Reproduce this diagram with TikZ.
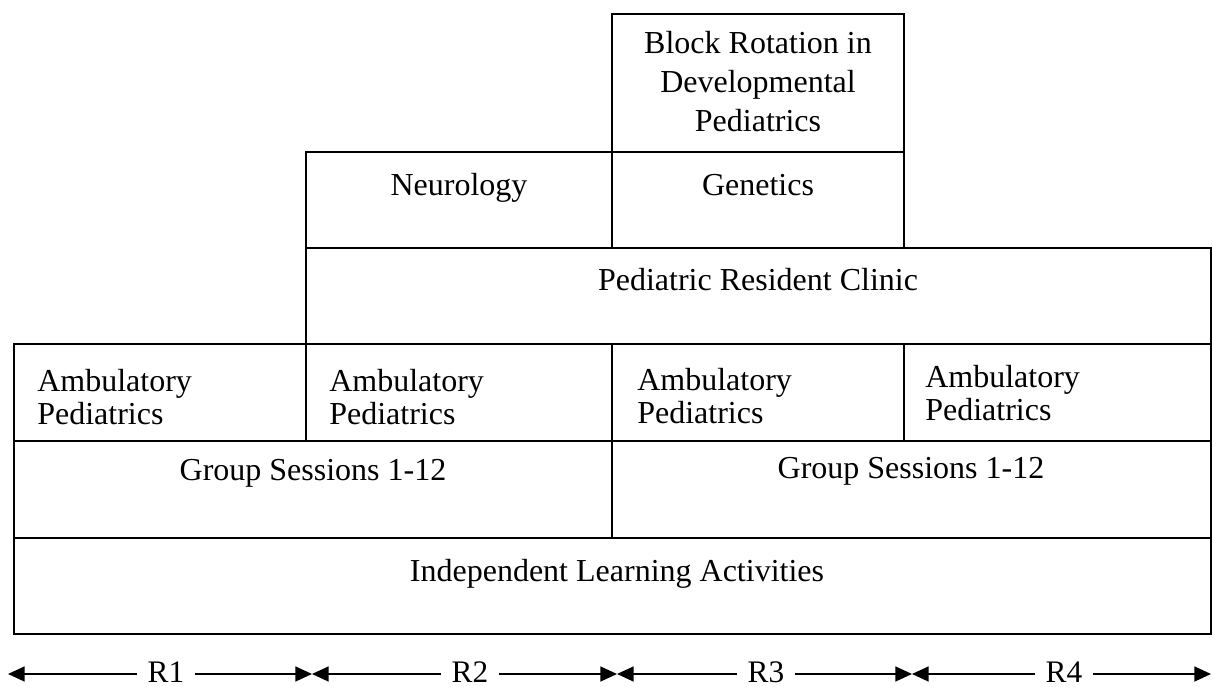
\documentclass[tikz,border=0pt]{standalone}
\usepackage{fontspec}
\setmainfont{Liberation Serif}
\usetikzlibrary{arrows.meta,fit}
\begin{document}
\begin{tikzpicture}[x=0.6pt,y=-0.6pt,
  cell/.style={draw, line width=1.2pt, inner sep=0pt},
  txt/.style={font=\fontsize{19.2}{19.8}\selectfont, inner sep=0pt},
  btxt/.style={font=\fontsize{19.2}{23.4}\selectfont, inner sep=0pt},
  rlab/.style={font=\fontsize{18.8}{20}\selectfont, inner xsep=6pt, inner ysep=0pt},
  span/.style={line width=0.9pt, -{Triangle[length=10pt,width=9pt]}}]
\useasboundingbox (0,0) rectangle (1213,687);
% boxes
\node[cell, fit={(612,14) (904,152)}] (block) {};
\node[cell, fit={(306,152) (612,248)}] (neuro) {};
\node[cell, fit={(612,152) (904,248)}] (gen) {};
\node[cell, fit={(306,248) (1211,344)}] (clinic) {};
\node[cell, fit={(14,344) (306,441)}] (amb1) {};
\node[cell, fit={(306,344) (612,441)}] (amb2) {};
\node[cell, fit={(612,344) (904,441)}] (amb3) {};
\node[cell, fit={(904,344) (1211,441)}] (amb4) {};
\node[cell, fit={(14,441) (612,538)}] (grp1) {};
\node[cell, fit={(612,441) (1211,538)}] (grp2) {};
\node[cell, fit={(14,538) (1211,634)}] (ind) {};
% texts (base anchor = baseline of the last line)
\node[btxt, align=center, anchor=base] (tblock) at (758,132) {Block Rotation in\\Developmental\\Pediatrics};
\node[txt, anchor=base] (tneuro) at (459,196) {Neurology};
\node[txt, anchor=base] (tgen) at (758,196) {Genetics};
\node[txt, anchor=base] (tclinic) at (758,291) {Pediatric Resident Clinic};
\node[txt, align=left, anchor=base west] (tamb1) at (37,425) {Ambulatory\\Pediatrics};
\node[txt, align=left, anchor=base west] (tamb2) at (329,425) {Ambulatory\\Pediatrics};
\node[txt, align=left, anchor=base west] (tamb3) at (637,424) {Ambulatory\\Pediatrics};
\node[txt, align=left, anchor=base west] (tamb4) at (925,421) {Ambulatory\\Pediatrics};
\node[txt, anchor=base] (tgrp1) at (313,481) {Group Sessions 1-12};
\node[txt, anchor=base] (tgrp2) at (911,479) {Group Sessions 1-12};
\node[txt, anchor=base] (tind) at (617,581) {Independent Learning Activities};
% span arrows
\coordinate (p0) at (8,674);
\coordinate (p1) at (312,674);
\coordinate (p2) at (617,674);
\coordinate (p3) at (912,674);
\coordinate (p4) at (1211,674);
\node[rlab] (r1) at (166,672) {R1};
\node[rlab] (r2) at (470,672) {R2};
\node[rlab] (r3) at (766,672) {R3};
\node[rlab] (r4) at (1064,672) {R4};
\draw[span] (r1.west |- p0) -- (p0);
\draw[span] (r1.east |- p1) -- (p1);
\draw[span] (r2.west |- p1) -- (p1);
\draw[span] (r2.east |- p2) -- (p2);
\draw[span] (r3.west |- p2) -- (p2);
\draw[span] (r3.east |- p3) -- (p3);
\draw[span] (r4.west |- p3) -- (p3);
\draw[span] (r4.east |- p4) -- (p4);
\end{tikzpicture}
\end{document}
